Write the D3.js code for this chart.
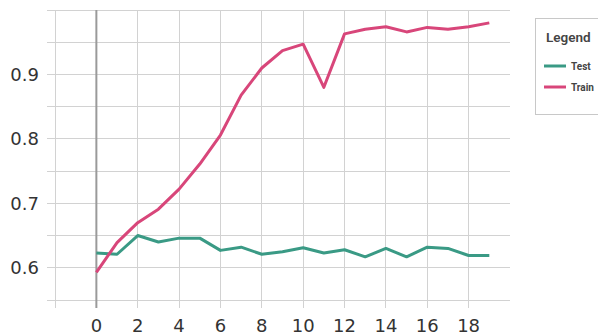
<!DOCTYPE html>
<html>
<head>
<meta charset="utf-8">
<script src="https://cdn.jsdelivr.net/npm/d3@7"></script>
<style>
  html, body { margin: 0; padding: 0; background: #fff; }
  svg { display: block; }
</style>
</head>
<body>
<svg id="chart" width="598" height="335"></svg>
<script>
const epochs = [0,1,2,3,4,5,6,7,8,9,10,11,12,13,14,15,16,17,18,19];
const testValues = [0.623,0.621,0.650,0.640,0.646,0.646,0.627,0.632,0.621,0.625,0.631,0.623,0.628,0.617,0.630,0.617,0.632,0.630,0.619,0.619];
const trainValues = [0.593,0.639,0.670,0.691,0.722,0.761,0.806,0.868,0.910,0.937,0.947,0.880,0.963,0.970,0.974,0.966,0.973,0.970,0.974,0.980];
const xTickValues = [-2,0,2,4,6,8,10,12,14,16,18];
const xTickLabels = ["","0","2","4","6","8","10","12","14","16","18"];
const yGridValues = [0.55,0.6,0.65,0.7,0.75,0.8,0.85,0.9,0.95,1.0];
const yTickLabels = ["0.6","0.7","0.8","0.9"];
const seriesNames = ["Test","Train"];
const seriesColors = ["#3a9a85","#d8467a"];

const svg = d3.select("#chart");
const x = d3.scaleLinear().domain([-2, 20]).range([55, 510]);
const y = d3.scaleLinear().domain([0.55, 1.0]).range([300, 10]);

// horizontal grid lines (with tick stubs to the left)
svg.append("g").selectAll("line").data(yGridValues).join("line")
  .attr("x1", x(-2) - 8).attr("x2", x(20))
  .attr("y1", d => y(d)).attr("y2", d => y(d))
  .attr("stroke", "#d2d2d2").attr("stroke-width", 1).attr("shape-rendering", "crispEdges");

// vertical grid lines (with tick stubs below)
svg.append("g").selectAll("line").data(xTickValues.filter(d => d !== 0)).join("line")
  .attr("x1", d => x(d)).attr("x2", d => x(d))
  .attr("y1", y(1.0)).attr("y2", y(0.55) + 8)
  .attr("stroke", "#d2d2d2").attr("stroke-width", 1).attr("shape-rendering", "crispEdges");

// zero line
svg.append("line")
  .attr("x1", x(0)).attr("x2", x(0))
  .attr("y1", y(1.0)).attr("y2", y(0.55) + 8)
  .attr("stroke", "#9a9a9a").attr("stroke-width", 2);

// y labels
svg.append("g").selectAll("text").data(yTickLabels).join("text")
  .attr("x", 39).attr("y", d => y(+d))
  .attr("text-anchor", "end").attr("dominant-baseline", "central")
  .attr("font-family", "DejaVu Sans, sans-serif").attr("font-size", 18)
  .attr("fill", "#333").text(d => d);

// x labels
svg.append("g").selectAll("text").data(xTickValues).join("text")
  .attr("x", d => x(d)).attr("y", 332)
  .attr("text-anchor", "middle")
  .attr("font-family", "DejaVu Sans, sans-serif").attr("font-size", 18)
  .attr("fill", "#333").text((d, i) => xTickLabels[i]);

// lines
const line = d3.line().x((d, i) => x(epochs[i])).y(d => y(d));
[testValues, trainValues].forEach((vals, k) => {
  svg.append("path").datum(vals)
    .attr("d", line)
    .attr("fill", "none")
    .attr("stroke", seriesColors[k])
    .attr("stroke-width", 3)
    .attr("stroke-linejoin", "round");
});

// legend
const lg = svg.append("g");
lg.append("rect").attr("x", 535.5).attr("y", 18.5).attr("width", 80).attr("height", 96)
  .attr("fill", "#fff").attr("stroke", "#c8c8c8").attr("stroke-width", 1);
lg.append("text").attr("x", 546).attr("y", 42)
  .attr("font-family", "Roboto, sans-serif").attr("font-weight", 600).attr("font-size", 13.5)
  .attr("fill", "#444").text("Legend");
seriesNames.forEach((name, i) => {
  const yy = 66 + i * 21;
  lg.append("line").attr("x1", 544).attr("x2", 566).attr("y1", yy).attr("y2", yy)
    .attr("stroke", seriesColors[i]).attr("stroke-width", 3);
  lg.append("text").attr("x", 571).attr("y", yy).attr("dominant-baseline", "central")
    .attr("font-family", "Roboto, sans-serif").attr("font-weight", 700).attr("font-size", 10)
    .attr("fill", "#444").text(name);
});
</script>
</body>
</html>
